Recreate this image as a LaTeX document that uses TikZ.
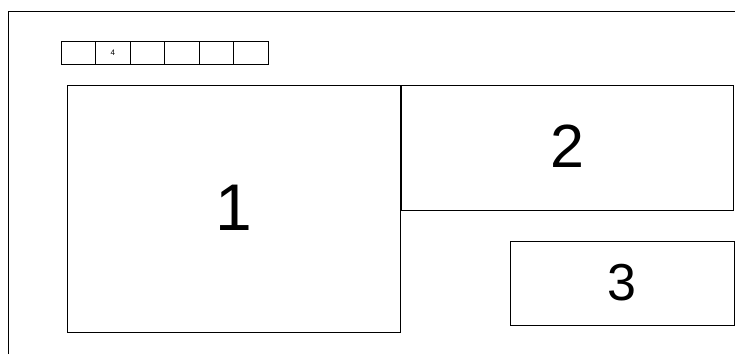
\documentclass[tikz,border=0pt]{standalone}
\usepackage{fontspec}
\setmainfont{Liberation Sans}
\tikzset{
  panel/.style={draw,line width=1pt,inner sep=0pt},
  cell/.style={draw,line width=1pt,minimum width=34.5pt,minimum height=23pt,inner sep=0pt,font=\fontsize{8}{8}\selectfont}
}
\begin{document}
\begin{tikzpicture}[x=1pt,y=-1pt]
\useasboundingbox (0,0) rectangle (735,354);
\draw[line width=1pt] (8,354) -- (8,11) -- (735,11);
% row of small cells
\foreach \i/\t in {1/,2/4,3/,4/,5/,6/} \node[cell] (c\i) at (61+\i*34.5-17.25,52.5) {\t};
% big panels
\node[panel,minimum width=333pt,minimum height=247pt] (one) at (233.5,208.5) {\raisebox{1pt}{\fontsize{66}{66}\selectfont 1}};
\node[panel,minimum width=332pt,minimum height=125pt] (two) at (567,147.5) {\raisebox{3pt}{\fontsize{61}{61}\selectfont 2}};
\node[panel,minimum width=224pt,minimum height=84pt] (three) at (622,283) {\raisebox{2pt}{\fontsize{52}{52}\selectfont 3}};
\end{tikzpicture}
\end{document}
